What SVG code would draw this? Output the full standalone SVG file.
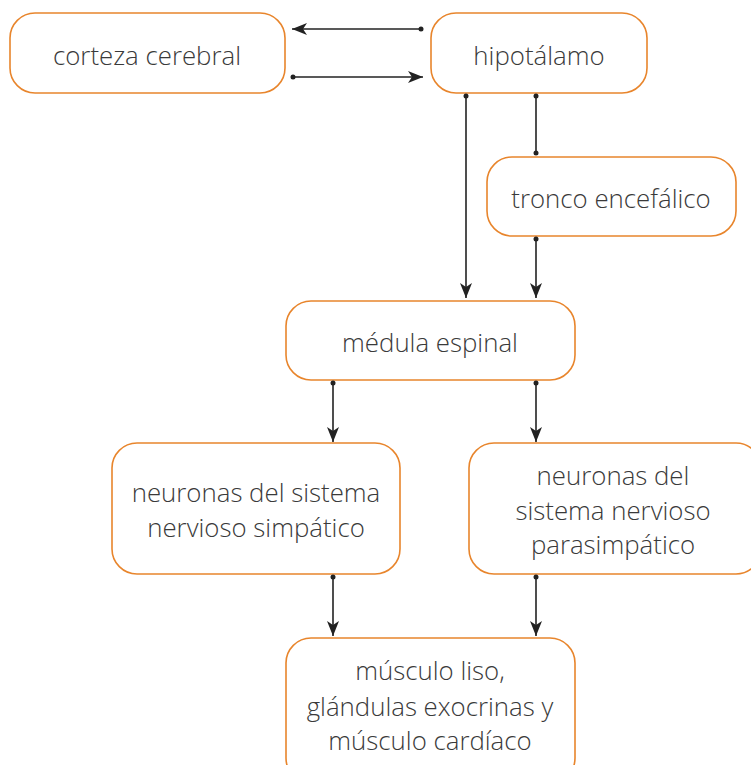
<svg xmlns="http://www.w3.org/2000/svg" width="751" height="765" viewBox="0 0 751 765">
<style>
.box{fill:#fff;stroke:#E8852C;stroke-width:1.6}
.lbl{font-family:"Open Sans","Liberation Sans",sans-serif;font-weight:300;font-size:25.8px;fill:#3a3a3a;text-anchor:middle}
.con{stroke:#222;stroke-width:1.6;fill:none}
.dot{fill:#222}
</style>
<defs>
<marker id="ah" markerUnits="userSpaceOnUse" markerWidth="16" markerHeight="14" refX="15" refY="7" orient="auto">
<path d="M0,1 L15,7 L0,13 L4,7 Z" fill="#222"/>
</marker>
</defs>
<rect width="751" height="765" fill="#fff"/>
<g id="corteza"><rect class="box" x="10" y="13" width="275" height="80" rx="25"/><text class="lbl" x="147" y="65">corteza cerebral</text></g>
<g id="hipotalamo"><rect class="box" x="431" y="13" width="216" height="80" rx="25"/><text class="lbl" x="539" y="65">hipotálamo</text></g>
<g id="tronco"><rect class="box" x="487" y="157" width="249" height="79" rx="25"/><text class="lbl" x="611" y="208">tronco encefálico</text></g>
<g id="medula"><rect class="box" x="286" y="301" width="289" height="79" rx="25"/><text class="lbl" x="430" y="352">médula espinal</text></g>
<g id="simpatico"><rect class="box" x="112" y="443" width="288" height="131" rx="25"/><text class="lbl" x="256" y="502">neuronas del sistema</text><text class="lbl" x="256" y="537">nervioso simpático</text></g>
<g id="parasimpatico"><rect class="box" x="469" y="443" width="292" height="131" rx="25"/><text class="lbl" x="613" y="485">neuronas del</text><text class="lbl" x="613" y="520">sistema nervioso</text><text class="lbl" x="613" y="554">parasimpático</text></g>
<g id="efectores"><rect class="box" x="286" y="638" width="289" height="145" rx="25"/><text class="lbl" x="430" y="680">músculo liso,</text><text class="lbl" x="430" y="716">glándulas exocrinas y</text><text class="lbl" x="430" y="750">músculo cardíaco</text></g>
<g id="connectors">
<path class="con" d="M421,29 H292" marker-end="url(#ah)"/><circle class="dot" cx="421" cy="29" r="2.5"/>
<path class="con" d="M293,77 H423" marker-end="url(#ah)"/><circle class="dot" cx="293" cy="77" r="2.5"/>
<path class="con" d="M466,96 V298" marker-end="url(#ah)"/><circle class="dot" cx="466" cy="96" r="2.5"/>
<path class="con" d="M536,96 V153"/><circle class="dot" cx="536" cy="96" r="2.5"/><circle class="dot" cx="536" cy="153" r="2.5"/>
<path class="con" d="M536,239 V298" marker-end="url(#ah)"/><circle class="dot" cx="536" cy="239" r="2.5"/>
<path class="con" d="M333,383 V442" marker-end="url(#ah)"/><circle class="dot" cx="333" cy="383" r="2.5"/>
<path class="con" d="M536,383 V442" marker-end="url(#ah)"/><circle class="dot" cx="536" cy="383" r="2.5"/>
<path class="con" d="M333,577 V636" marker-end="url(#ah)"/><circle class="dot" cx="333" cy="577" r="2.5"/>
<path class="con" d="M536,577 V636" marker-end="url(#ah)"/><circle class="dot" cx="536" cy="577" r="2.5"/>
</g>
</svg>
